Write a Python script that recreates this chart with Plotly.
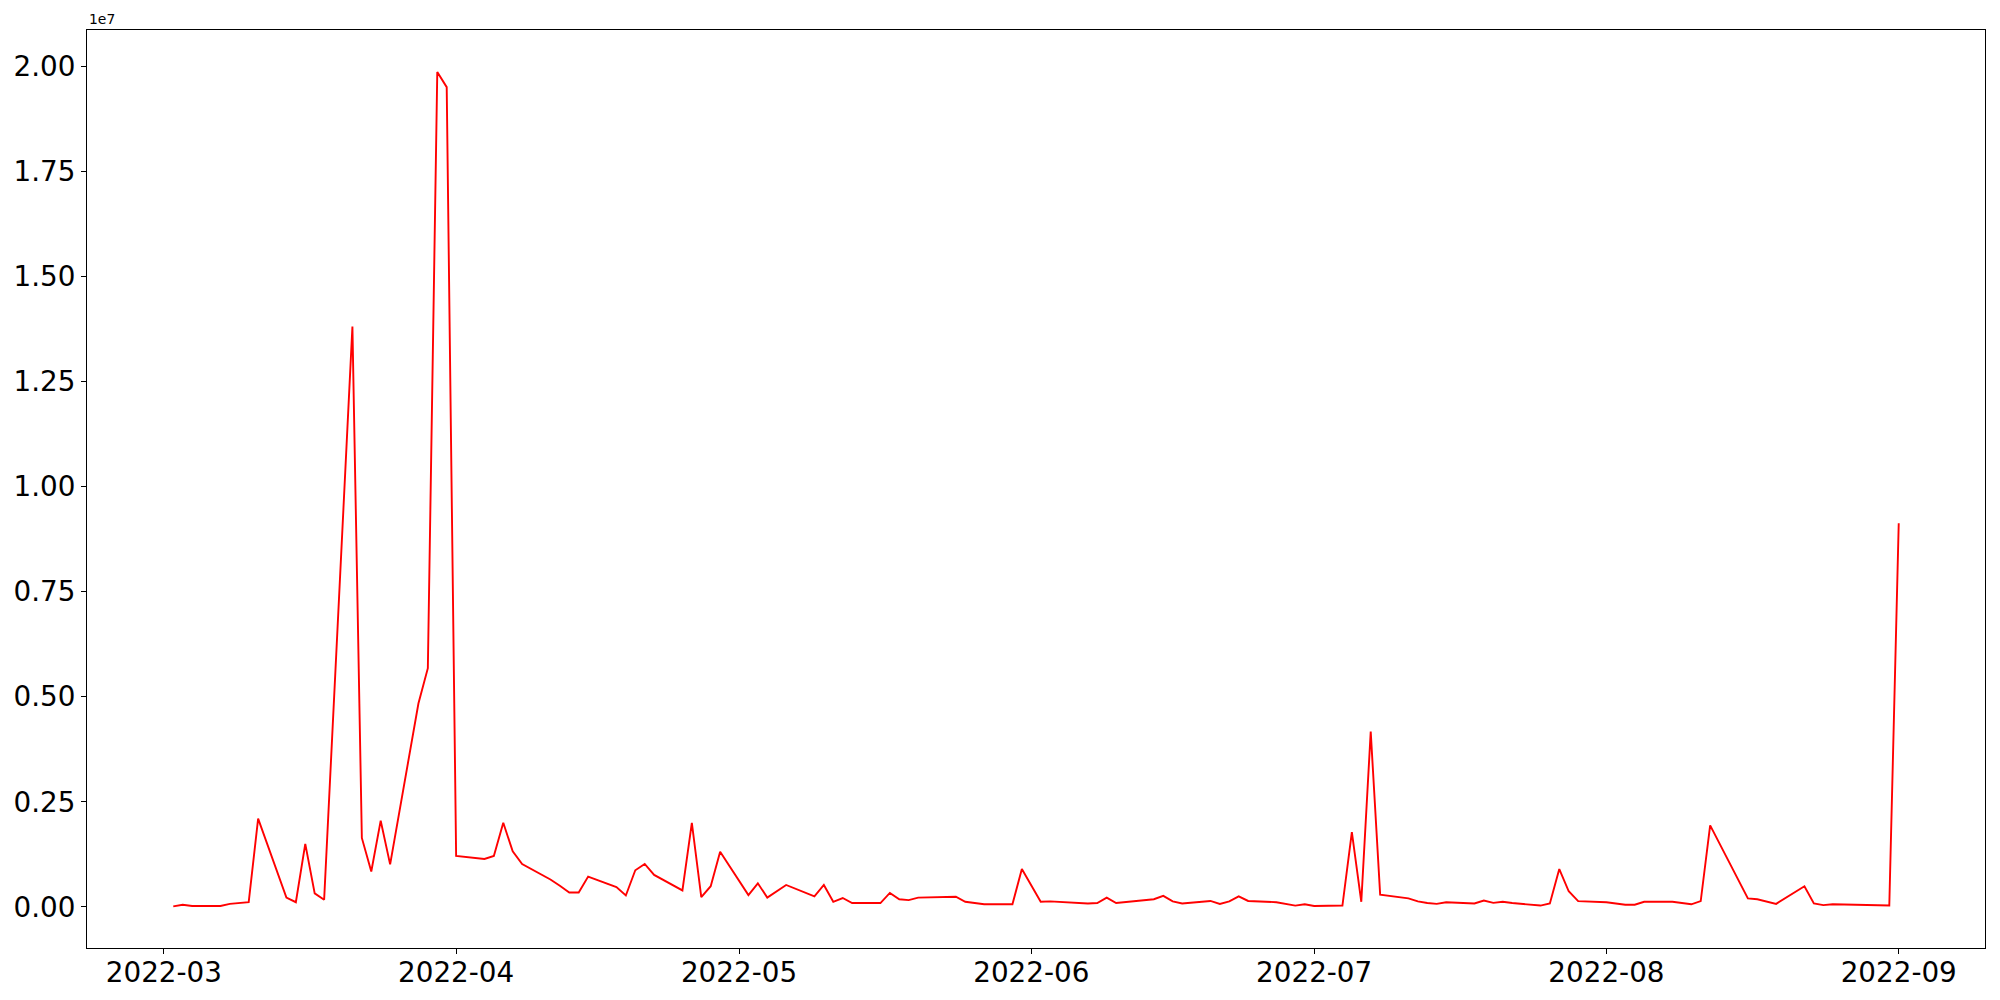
"""Daily series line chart (matplotlib-style look)."""

import plotly.graph_objects as go

# trading dates and values (in units of 1e7)
dates = [
    "2022-03-02", "2022-03-03", "2022-03-04", "2022-03-07", "2022-03-08",
    "2022-03-09", "2022-03-10", "2022-03-11", "2022-03-14", "2022-03-15",
    "2022-03-16", "2022-03-17", "2022-03-18", "2022-03-21", "2022-03-22",
    "2022-03-23", "2022-03-24", "2022-03-25", "2022-03-28", "2022-03-29",
    "2022-03-30", "2022-03-31",
    "2022-04-01", "2022-04-04", "2022-04-05", "2022-04-06", "2022-04-07",
    "2022-04-08", "2022-04-11", "2022-04-12", "2022-04-13", "2022-04-14",
    "2022-04-15", "2022-04-18", "2022-04-19", "2022-04-20", "2022-04-21",
    "2022-04-22", "2022-04-25", "2022-04-26", "2022-04-27", "2022-04-28",
    "2022-04-29",
    "2022-05-02", "2022-05-03", "2022-05-04", "2022-05-06", "2022-05-09",
    "2022-05-10", "2022-05-11", "2022-05-12", "2022-05-13", "2022-05-16",
    "2022-05-17", "2022-05-18", "2022-05-19", "2022-05-20", "2022-05-24",
    "2022-05-25", "2022-05-27", "2022-05-30", "2022-05-31",
    "2022-06-02", "2022-06-03", "2022-06-07", "2022-06-08", "2022-06-09",
    "2022-06-10", "2022-06-14", "2022-06-15", "2022-06-16", "2022-06-17",
    "2022-06-20", "2022-06-21", "2022-06-22", "2022-06-23", "2022-06-24",
    "2022-06-27", "2022-06-29", "2022-06-30",
    "2022-07-01", "2022-07-04", "2022-07-05", "2022-07-06", "2022-07-07",
    "2022-07-08", "2022-07-11", "2022-07-12", "2022-07-13", "2022-07-14",
    "2022-07-15", "2022-07-18", "2022-07-19", "2022-07-20", "2022-07-21",
    "2022-07-22", "2022-07-25", "2022-07-26", "2022-07-27", "2022-07-28",
    "2022-07-29",
    "2022-08-01", "2022-08-02", "2022-08-03", "2022-08-04", "2022-08-05",
    "2022-08-08", "2022-08-09", "2022-08-10", "2022-08-11", "2022-08-12",
    "2022-08-16", "2022-08-17", "2022-08-19", "2022-08-22", "2022-08-23",
    "2022-08-24", "2022-08-25", "2022-08-31",
    "2022-09-01",
]
values_1e7 = [
    0.001, 0.005, 0.002, 0.002, 0.007,
    0.009, 0.011, 0.210, 0.022, 0.011,
    0.150, 0.032, 0.017, 1.381, 0.164,
    0.084, 0.205, 0.101, 0.484, 0.568,
    1.987, 1.951,
    0.121, 0.114, 0.121, 0.200, 0.132,
    0.102, 0.065, 0.050, 0.034, 0.034,
    0.072, 0.047, 0.027, 0.087, 0.102,
    0.076, 0.039, 0.200, 0.023, 0.049,
    0.131,
    0.028, 0.056, 0.022, 0.052, 0.025,
    0.052, 0.012, 0.021, 0.009, 0.009,
    0.033, 0.018, 0.016, 0.022, 0.024,
    0.012, 0.006, 0.006, 0.090,
    0.012, 0.013, 0.008, 0.009, 0.022,
    0.009, 0.018, 0.026, 0.013, 0.008,
    0.014, 0.007, 0.013, 0.025, 0.014,
    0.011, 0.003, 0.006,
    0.002, 0.003, 0.178, 0.012, 0.417,
    0.029, 0.020, 0.013, 0.009, 0.007,
    0.011, 0.008, 0.015, 0.0095, 0.012,
    0.009, 0.003, 0.008, 0.090, 0.037,
    0.0135,
    0.011, 0.008, 0.005, 0.005, 0.012,
    0.012, 0.009, 0.006, 0.0135, 0.194,
    0.020, 0.018, 0.007, 0.049, 0.008,
    0.004, 0.006, 0.003,
    0.913,
]
y_ticks_1e7 = [0.0, 0.25, 0.5, 0.75, 1.0, 1.25, 1.5, 1.75, 2.0]

values = [v * 1e7 for v in values_1e7]

_FONT = "DejaVu Sans"
_AXIS = dict(showline=True, linecolor="black", linewidth=1.1, mirror=True,
             showgrid=False, zeroline=False, ticks="outside", ticklen=5,
             tickwidth=1.1, tickcolor="black", automargin=False,
             tickfont=dict(family=_FONT, size=27.8, color="black"))

fig = go.Figure(go.Scatter(x=dates, y=values, mode="lines",
                           line=dict(color="#ff0000", width=1.9)))

fig.update_layout(
    width=2000, height=1000,
    paper_bgcolor="white", plot_bgcolor="white",
    margin=dict(l=87, r=15, t=30, b=52),
    showlegend=False,
)
fig.update_xaxes(**_AXIS, type="date", range=["2022-02-20 20:24",
                                              "2022-09-10 03:36"],
                 tick0="2022-01-01", dtick="M1", tickformat="%Y-%m",
                 ticklabelstandoff=-5)
fig.update_yaxes(**_AXIS, range=[-0.098e7, 2.087e7],
                 tickvals=[t * 1e7 for t in y_ticks_1e7],
                 ticktext=[f"{t:.2f}" for t in y_ticks_1e7])

# matplotlib-style offset text
fig.add_annotation(text="1e7", xref="paper", yref="paper", x=0, y=1,
                   xanchor="left", yanchor="bottom", showarrow=False,
                   yshift=1, font=dict(family=_FONT, size=13.9,
                                       color="black"))

# drop the default page margin so the 2000x1000 figure fills the window
fig.write_html("out.html", config={"displayModeBar": False},
               post_script="document.body.style.margin='0';"
                           "document.body.style.overflow='hidden';")
